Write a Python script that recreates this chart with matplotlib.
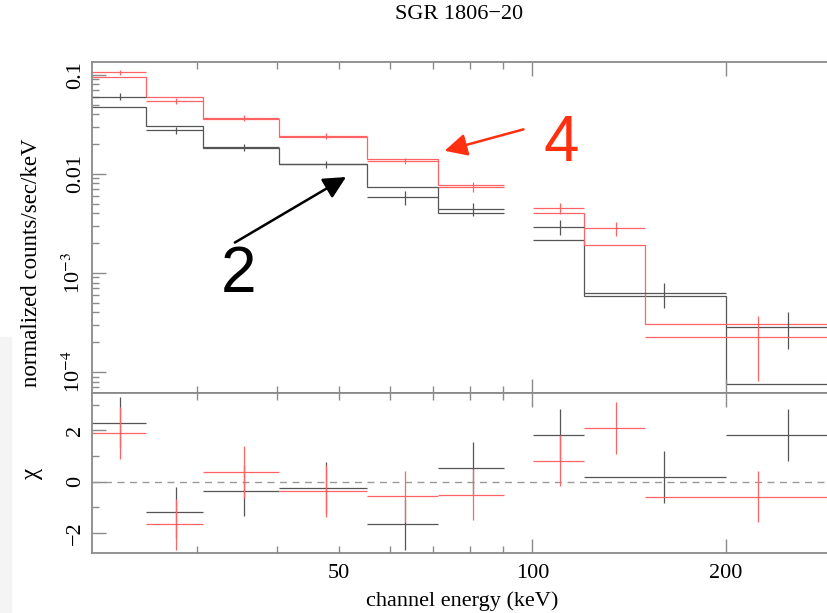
import matplotlib
matplotlib.use("Agg")
import matplotlib.pyplot as plt
from matplotlib.patches import Rectangle
from matplotlib.ticker import FixedLocator, FuncFormatter, NullFormatter
import numpy as np

plt.rcParams['font.family'] = ['Liberation Serif', 'DejaVu Serif']
plt.rcParams['mathtext.fontset'] = 'stix'

# channel bins (keV), black = spectrum 2, red = spectrum 4
black_lo = [20.6, 25.0, 30.7, 40.3, 55.2, 71.4, 100.3, 120.4, 200.0]
black_hi = [25.0, 30.7, 40.3, 55.2, 71.4, 90.2, 120.4, 200.0, 300.0]
red_lo = [20.6, 25.0, 30.7, 40.3, 55.2, 71.4, 100.3, 120.4, 150.0]
red_hi = [25.0, 30.7, 40.3, 55.2, 71.4, 90.2, 120.4, 150.0, 300.0]

# normalized counts/sec/keV
black_rate = [0.060, 0.0275, 0.0186, 0.01253, 0.00582, 0.00441, 0.00292, 6.2e-4, 2.87e-4]
black_err = [0.0050, 0.0022, 0.0014, 0.0011, 0.00093, 0.00066, 0.00049, 1.8e-4, 1.15e-4]
black_model = [0.0477, 0.0304, 0.0184, 0.01253, 0.00735, 0.00407, 0.00213, 5.87e-4, 7.55e-5]

red_rate = [0.1057, 0.0543, 0.0364, 0.0243, 0.01352, 0.0074, 0.00448, 0.00281, 2.24e-4]
red_err = [0.0060, 0.0040, 0.0026, 0.0017, 0.0010, 0.00085, 0.00055, 0.00047, 1.42e-4]
red_model = [0.0942, 0.0600, 0.0355, 0.0237, 0.01406, 0.00775, 0.00405, 0.00191, 3.06e-4]

# residuals (chi)
black_chi = [2.30, -1.20, -0.35, -0.23, -1.66, 0.53, 1.82, 0.18, 1.82]
red_chi = [1.90, -1.66, 0.38, -0.36, -0.57, -0.51, 0.82, 2.09, -0.58]

BLACK = '#555555'
RED = '#ff6464'
SPINE = '#8a8a8a'

fig = plt.figure(figsize=(8.28, 6.13), dpi=100)
fig.patches.append(Rectangle((0, 0), 11 / 828, 276 / 613, transform=fig.transFigure,
                             color='#f4f4f4', zorder=-1))

ax1 = fig.add_axes([0.1111, 0.3589, 0.8937, 0.5400])
ax2 = fig.add_axes([0.1111, 0.0979, 0.8937, 0.2610], sharex=ax1)


def draw_data(ax, lo, hi, y, yerr, color):
    lo = np.array(lo)
    hi = np.array(hi)
    mid = (lo + hi) / 2
    ax.errorbar(mid, y, xerr=[mid - lo, hi - mid], yerr=yerr, fmt='none',
                ecolor=color, elinewidth=0.9, capsize=0)


def draw_model(ax, lo, hi, model, color):
    # contiguous runs of bins are drawn as one histogram step line
    start = 0
    for i in range(1, len(lo) + 1):
        if i == len(lo) or abs(lo[i] - hi[i - 1]) > 1e-6:
            edges = list(lo[start:i]) + [hi[i - 1]]
            ax.stairs(model[start:i], edges, color=color, lw=0.9, baseline=None)
            start = i


draw_model(ax1, black_lo, black_hi, black_model, BLACK)
draw_model(ax1, red_lo, red_hi, red_model, RED)
draw_data(ax1, black_lo, black_hi, black_rate, black_err, BLACK)
draw_data(ax1, red_lo, red_hi, red_rate, red_err, RED)

ax2.axhline(0, color='#999999', lw=1.0, ls=(0, (5, 4)))
draw_data(ax2, black_lo, black_hi, black_chi, 1.0, BLACK)
draw_data(ax2, red_lo, red_hi, red_chi, 1.0, RED)

ax1.set_xscale('log')
ax1.set_yscale('log')
ax1.set_xlim(20.6, 293)
ax1.set_ylim(6.14e-5, 0.1346)
ax2.set_ylim(-2.78, 3.46)

for ax in (ax1, ax2):
    for s in ax.spines.values():
        s.set_color(SPINE)
        s.set_linewidth(1.3)
    ax.tick_params(which='both', direction='in', top=True, right=False,
                   color=SPINE, width=1.0, labelsize=16)
    ax.tick_params(which='major', length=10)
    ax.tick_params(which='minor', length=5)

ax1.xaxis.set_major_locator(FixedLocator([100, 200]))
ax1.xaxis.set_minor_locator(FixedLocator([30, 40, 50, 60, 70, 80, 90, 300]))
ax2.xaxis.set_major_formatter(FuncFormatter(lambda v, p: '%d' % v))
ax2.xaxis.set_minor_formatter(FuncFormatter(lambda v, p: '50' if abs(v - 50) < 1 else ''))
ax1.tick_params(axis='x', which='both', labelbottom=False)
ax2.tick_params(axis='x', which='both', pad=8)

ax1.set_yticks([0.1, 0.01, 1e-3, 1e-4], ['0.1', '0.01', r'10$^{-3}$', r'10$^{-4}$'],
               rotation=90, va='center')
ax1.yaxis.set_minor_locator(matplotlib.ticker.LogLocator(base=10, subs=np.arange(2, 10)))
ax1.yaxis.set_minor_formatter(NullFormatter())
ax1.tick_params(axis='y', pad=5)

ax2.set_yticks([-2, 0, 2], ['\u22122', '0', '2'], rotation=90, va='center')
ax2.yaxis.set_minor_locator(FixedLocator([-1, 1, 3]))
ax2.tick_params(axis='y', pad=5)

ax1.set_ylabel('normalized counts/sec/keV', fontsize=16.5)
ax1.yaxis.set_label_coords(-0.068, 0.393)
ax2.set_ylabel('\u03c7', fontsize=18)
ax2.yaxis.set_label_coords(-0.066, 0.5)
ax2.set_xlabel('channel energy (keV)', fontsize=16, labelpad=6)

fig.text(0.554, 0.977, 'SGR 1806\u221220', ha='center', va='center', fontsize=16)

# annotations
ax1.annotate('', xy=(51.7, 0.0096), xytext=(34.1, 0.00196),
             arrowprops=dict(arrowstyle='-|>', color='black', lw=1.8, mutation_scale=34))
ax1.text(34.8, 9.6e-4, '2', color='black', fontsize=46, family='Liberation Sans',
         ha='center', va='center')
ax1.annotate('', xy=(72.3, 0.0168), xytext=(97.8, 0.0286),
             arrowprops=dict(arrowstyle='-|>', color='#ff3010', lw=1.8, mutation_scale=34))
ax1.text(110.8, 0.020, '4', color='#ff3010', fontsize=46, family='Liberation Sans',
         ha='center', va='center')

fig.savefig('out.png', dpi=100)
